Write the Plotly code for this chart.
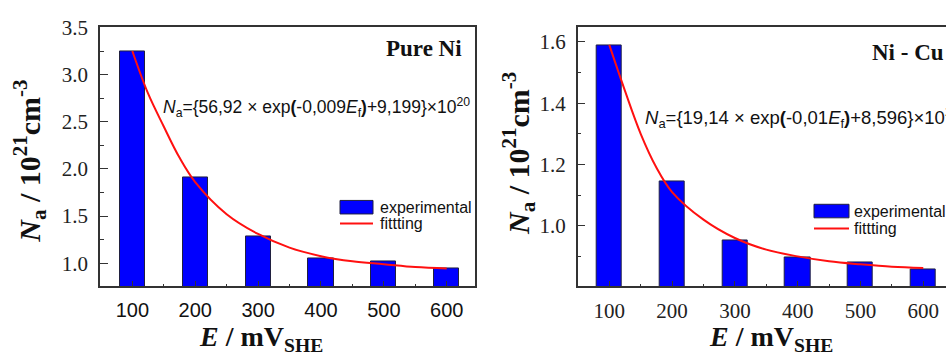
import plotly.graph_objects as go

W, H = 946, 356

# ---- data ----
potential = [100, 200, 300, 400, 500, 600]
na_pure_ni = [3.25, 1.91, 1.284, 1.048, 1.017, 0.946]
na_ni_cu = [1.588, 1.145, 0.953, 0.895, 0.879, 0.859]

fit_E = [100, 125, 150, 175, 200, 250, 300, 350, 400, 450, 500, 550, 600]
fit_pure_ni = [3.25, 2.80, 2.45, 2.12, 1.86, 1.52, 1.31, 1.165, 1.075, 1.02, 0.99, 0.96, 0.945]
fit_ni_cu = [1.59, 1.44, 1.30, 1.19, 1.11, 1.02, 0.96, 0.922, 0.90, 0.884, 0.874, 0.866, 0.862]

x_ticks = [100, 200, 300, 400, 500, 600]

BLUE = "#0000ff"
RED = "#ff1010"
AX = "#333333"


def px(x):
    return x / W


def py(y):
    return 1 - y / H


fig = go.Figure()

fig.add_trace(go.Bar(x=potential, y=na_pure_ni, width=40, marker=dict(color=BLUE, line=dict(color="#202040", width=1)),
                     xaxis="x", yaxis="y", showlegend=False))
fig.add_trace(go.Scatter(x=fit_E, y=fit_pure_ni, mode="lines", line=dict(color=RED, width=2, shape="spline"),
                         xaxis="x", yaxis="y", showlegend=False))
fig.add_trace(go.Bar(x=potential, y=na_ni_cu, width=40, marker=dict(color=BLUE, line=dict(color="#202040", width=1)),
                     xaxis="x2", yaxis="y2", showlegend=False))
fig.add_trace(go.Scatter(x=fit_E, y=fit_ni_cu, mode="lines", line=dict(color=RED, width=2, shape="spline"),
                         xaxis="x2", yaxis="y2", showlegend=False))

serif = "Liberation Serif"
sans = "Liberation Sans"

common_x = dict(showline=True, linecolor=AX, linewidth=1.5, ticks="inside", ticklen=6, tickwidth=1.2,
                tickcolor=AX, showgrid=False, zeroline=False, tickvals=x_ticks,
                minor=dict(tickvals=[150, 250, 350, 450, 550], ticks="inside", ticklen=3, tickcolor=AX, tickwidth=1.2),
                ticklabelstandoff=5)
common_y = dict(showline=True, linecolor=AX, linewidth=1.5, ticks="inside", ticklen=8, tickwidth=1.2,
                tickcolor=AX, showgrid=False, zeroline=False, ticklabelstandoff=6,
                tickfont=dict(family=serif, size=21, color="#222"))

fig.update_layout(
    width=W, height=H, margin=dict(l=0, r=0, t=0, b=0),
    paper_bgcolor="white", plot_bgcolor="white", bargap=0,
    font=dict(family=serif),
    xaxis=dict(domain=[px(100), px(475)], range=[48.6, 645], anchor="y", mirror=True,
               tickfont=dict(family=sans, size=20, color="#111"), **common_x),
    yaxis=dict(domain=[py(284), py(16)], range=[0.754, 3.5], anchor="x", mirror=True,
               dtick=0.5, tick0=0, tickformat=".1f",
               **common_y, ),
    xaxis2=dict(domain=[px(577.7), 1.0], range=[49.7, 636.2], anchor="y2", mirror=True,
                tickfont=dict(family=serif, size=21, color="#222"), **common_x),
    yaxis2=dict(domain=[py(284), py(16)], range=[0.802, 1.647], anchor="x2", mirror=False,
                dtick=0.2, tick0=0, tickformat=".1f", **common_y),
)
fig.update_yaxes(minor=dict(ticks="inside", ticklen=4, tickcolor=AX, tickwidth=1.2))
fig.layout.yaxis.minor.dtick = 0.25
fig.layout.yaxis.minor.tick0 = 0
fig.layout.yaxis2.minor.dtick = 0.1
fig.layout.yaxis2.minor.tick0 = 0

ann = []
shapes = []

# axis titles
ytitle = "<b><i>N</i><sub>a</sub> / 10<sup>21</sup>cm<sup>-3</sup></b>"
xtitle = "<b><i>E</i> / mV<sub>SHE</sub></b>"
for cx, cy in [(30, 155), (518, 147)]:
    ann.append(dict(x=px(cx), y=py(cy), xref="paper", yref="paper", text=ytitle, textangle=-90,
                    showarrow=False, xanchor="center", yanchor="middle",
                    font=dict(family=serif, size=30, color="#111")))
for lx in [197, 707]:
    ann.append(dict(x=px(lx), y=py(338), xref="paper", yref="paper", text=xtitle,
                    showarrow=False, xanchor="left", yanchor="middle",
                    font=dict(family=serif, size=28, color="#111")))

# panel labels
ann.append(dict(x=px(424), y=py(38), xref="paper", yref="paper", text="<b>Pure Ni</b>", showarrow=False,
                xanchor="center", yanchor="middle", font=dict(family=serif, size=23, color="#111")))
ann.append(dict(x=px(870), y=py(42), xref="paper", yref="paper", text="<b>Ni - Cu</b>", showarrow=False,
                xanchor="left", yanchor="middle", font=dict(family=serif, size=23, color="#111")))

# equations
eq1 = "<i>N</i><sub>a</sub>={56,92 × exp<b>(</b>-0,009<i>E</i><sub>f</sub><b>)</b>+9,199}×10<sup>20</sup>"
eq2 = "<i>N</i><sub>a</sub>={19,14 × exp<b>(</b>-0,01<i>E</i><sub>f</sub><b>)</b>+8,596}×10<sup>20</sup>"
ann.append(dict(x=px(161), y=py(99), xref="paper", yref="paper", text=eq1, showarrow=False,
                xanchor="left", yanchor="middle", font=dict(family=sans, size=17.5, color="#111")))
ann.append(dict(x=px(643), y=py(109), xref="paper", yref="paper", text=eq2, showarrow=False,
                xanchor="left", yanchor="middle", font=dict(family=sans, size=18.5, color="#111")))

# legends (drawn manually)
for (bx0, bx1, by0, by1, ly, tx) in [(340, 373, 195, 209, 219, 378), (814, 849, 199, 213, 224, 852)]:
    shapes.append(dict(type="rect", xref="paper", yref="paper", x0=px(bx0), x1=px(bx1), y0=py(by1), y1=py(by0),
                       fillcolor=BLUE, line=dict(color="#202040", width=1)))
    shapes.append(dict(type="line", xref="paper", yref="paper", x0=px(bx0), x1=px(bx1), y0=py(ly), y1=py(ly),
                       line=dict(color=RED, width=2)))
    ann.append(dict(x=px(tx), y=py((by0 + by1) / 2), xref="paper", yref="paper", text="experimental",
                    showarrow=False, xanchor="left", yanchor="middle", font=dict(family=sans, size=16, color="#111")))
    ann.append(dict(x=px(tx), y=py(ly), xref="paper", yref="paper", text="fittting",
                    showarrow=False, xanchor="left", yanchor="middle", font=dict(family=sans, size=16, color="#111")))

fig.update_layout(annotations=ann, shapes=shapes)

fig.write_html("out.html")
